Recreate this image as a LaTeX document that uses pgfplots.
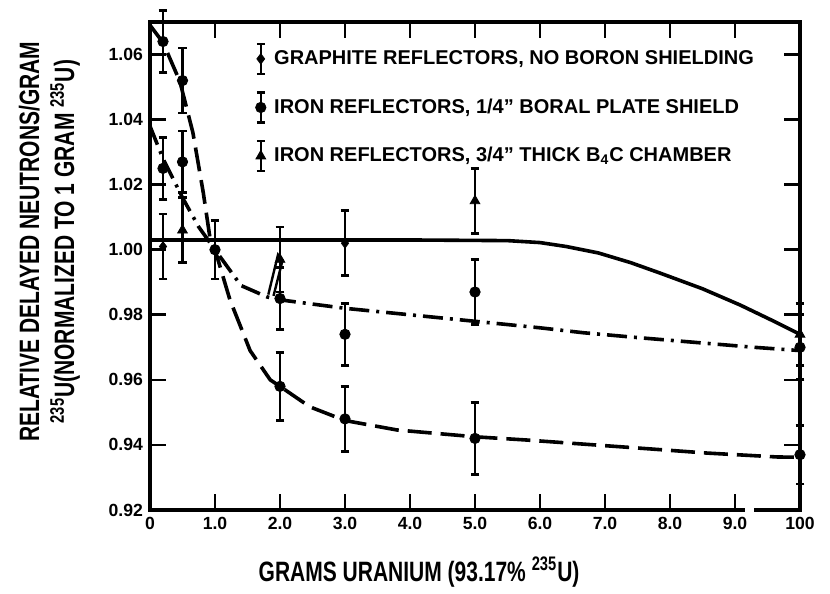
\documentclass[border=0pt]{standalone}
\usepackage{pgfplots}
\pgfplotsset{compat=1.18}
\usepackage{fontspec}
\setmainfont{Liberation Sans}
\newfontfamily\condfont{Liberation Sans}[FakeStretch=0.75]

\pgfplotsset{
  errleg/.style={legend image code/.code={
    \path (-3pt,0pt) (4.5pt,0pt);
    \draw[line width=1.3pt, solid] (0pt,-7.5pt) -- (0pt,7.5pt);
    \draw[line width=1.3pt, solid] (-2pt,-7.5pt) -- (2pt,-7.5pt);
    \draw[line width=1.3pt, solid] (-2pt,7.5pt) -- (2pt,7.5pt);
    \draw[##1] plot coordinates {(0pt,0pt)};
  }},
  ebar/.style={only marks, black, mark options={solid, fill=black},
    error bars/y dir=both, error bars/y explicit,
    error bars/error mark=-,
    error bars/error bar style={line width=1.4pt, solid},
    error bars/error mark options={rotate=90, mark size=2.2pt, line width=1.4pt, solid}},
}

\begin{document}
\begin{tikzpicture}
\useasboundingbox (-75pt,-42pt) rectangle (340pt,255pt);
\begin{axis}[
  at={(0,0)}, anchor=south west,
  width=325pt, height=244pt, scale only axis,
  xmin=0, xmax=10, ymin=0.92, ymax=1.07,
  clip=false,
  axis line style={line width=1.8pt},
  every tick/.style={line width=1.3pt, black},
  major tick length=8pt,
  tick align=inside,
  xtick={0,1,2,3,4,5,6,7,8,9,10},
  xticklabels={0,1.0,2.0,3.0,4.0,5.0,6.0,7.0,8.0,9.0,100},
  ytick={0.92,0.94,0.96,0.98,1.00,1.02,1.04,1.06},
  yticklabels={0.92,0.94,0.96,0.98,1.00,1.02,1.04,1.06},
  ticklabel style={font=\fontsize{8.8}{10}\selectfont\bfseries},
  xlabel={GRAMS URANIUM (93.17\% \textsuperscript{235}U)},
  every axis x label/.style={at={(rel axis cs:0.414,-0.127)}, anchor=center,
    font=\fontsize{14}{16}\condfont\bfseries},
  ylabel={RELATIVE DELAYED NEUTRONS/GRAM\\\textsuperscript{235}U(NORMALIZED TO 1 GRAM \textsuperscript{235}U)},
  every axis y label/.style={at={(rel axis cs:-0.1546,0.55)}, anchor=center, rotate=90,
    align=center, font=\fontsize{14}{17.5}\condfont\bfseries},
  legend style={at={(axis cs:1.6,1.0638)}, anchor=north west, draw=none, fill=none,
    inner sep=0pt, row sep=8pt, font=\fontsize{10}{12}\selectfont\bfseries},
  legend cell align=left,
]
% solid curve (graphite)
\addplot[black, line width=1.8pt, line join=round, forget plot] coordinates {
 (0,1.003) (2,1.003) (4,1.003) (5.5,1.0028) (6.0,1.0022) (6.4,1.001) (6.9,0.999)
 (7.4,0.996) (7.85,0.9928) (8.5,0.988) (9.08,0.983) (9.6,0.978) (10,0.974)};
% dashed curve
\addplot[black, line width=1.8pt, dash pattern=on 12pt off 4.5pt, forget plot] coordinates {
 (0,1.069) (0.2,1.0637) (0.46,1.0517) (0.66,1.036) (0.82,1.0175) (0.92,1.004) (1.0,1.0)
 (1.23,0.9846) (1.54,0.969) (1.85,0.960) (2.0,0.958) (2.46,0.9517) (3.0,0.9475)
 (3.8,0.9446) (5.0,0.9425) (5.8,0.9415) (7.54,0.939) (8.57,0.9375) (9.65,0.9363) (10,0.9362)};
% dash-dot curve
\addplot[black, line width=1.8pt, dash pattern=on 10pt off 3.5pt on 1.5pt off 3.5pt, forget plot] coordinates {
 (0,1.038) (0.2,1.028) (0.5,1.016) (0.75,1.007) (1.0,1.0) (1.4,0.989) (1.8,0.9855)
 (2.0,0.9846) (3.0,0.982) (4.0,0.980) (5.0,0.978) (6.0,0.976) (6.66,0.9745)
 (7.5,0.973) (8.46,0.9714) (9.3,0.970) (10,0.969)};
% small double stroke near 2.0
\addplot[black, line width=1.2pt, forget plot] coordinates {
 (1.82,0.9862) (1.97,0.9985) (2.04,0.9968) (1.9,0.9858)};
% circles (dashed series)
\addplot[ebar, mark=*, mark size=2.6pt, forget plot] coordinates {
 (0.2,1.064) +- (0,0.0095)
 (0.5,1.052) +- (0,0.0100)
 (1.0,1.000) +- (0,0.0090)
 (2.0,0.958) +- (0,0.0105)
 (3.0,0.948) +- (0,0.0100)
 (5.0,0.942) +- (0,0.0110)
 (10,0.937) +- (0,0.0090)};
% circles (dash-dot series)
\addplot[ebar, mark=*, mark size=2.6pt, forget plot] coordinates {
 (0.2,1.025) +- (0,0.0095)
 (0.5,1.027) +- (0,0.0095)
 (2.0,0.985) +- (0,0.0095)
 (3.0,0.974) +- (0,0.0095)
 (5.0,0.987) +- (0,0.0100)
 (10,0.970) +- (0,0.0100)};
% triangles
\addplot[ebar, mark=triangle*, mark size=2.8pt, forget plot] coordinates {
 (0.5,1.006) +- (0,0.0100)
 (2.0,0.997) +- (0,0.0100)
 (5.0,1.015) +- (0,0.0100)
 (10,0.974) +- (0,0.0095)};
% small diamonds (graphite)
\addplot[ebar, mark=diamond*, mark size=2.4pt, forget plot] coordinates {
 (0.2,1.001) +- (0,0.0100)
 (3.0,1.002) +- (0,0.0100)};
% legend
\addlegendimage{errleg, only marks, mark=diamond*, mark size=2.6pt, mark options={fill=black}}
\addlegendentry{GRAPHITE REFLECTORS, NO BORON SHIELDING}
\addlegendimage{errleg, only marks, mark=*, mark size=2.6pt, mark options={fill=black}}
\addlegendentry{IRON REFLECTORS, 1/4" BORAL PLATE SHIELD}
\addlegendimage{errleg, only marks, mark=triangle*, mark size=2.8pt, mark options={fill=black}}
\addlegendentry{IRON REFLECTORS, 3/4" THICK B\textsubscript{4}C CHAMBER}
\end{axis}
\fill[white] (297.5pt,-1.5pt) rectangle (302pt,1.5pt);
\end{tikzpicture}
\end{document}
